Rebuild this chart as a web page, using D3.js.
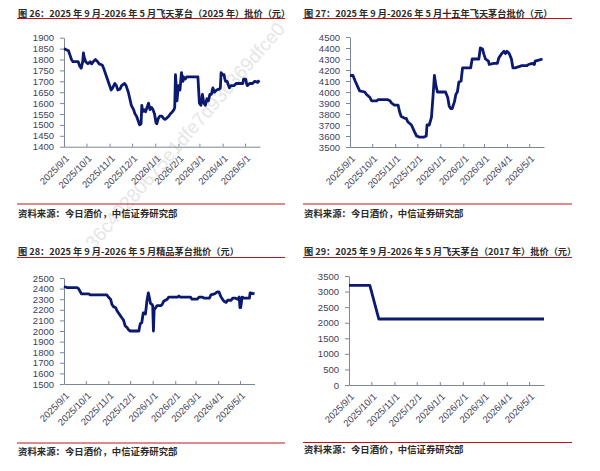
<!DOCTYPE html>
<html>
<head>
<meta charset="utf-8">
<script src="https://cdn.jsdelivr.net/npm/d3@7"></script>
<style>
  body { margin: 0; background: #fff; }
  svg { display: block; font-family: "Noto Sans CJK SC", "Noto Sans", sans-serif; }
</style>
</head>
<body>
<svg id="chart" width="600" height="471"></svg>
<script>
// ── Data ────────────────────────────────────────────────────────────────────
const MONTH_TICKS = ['2025-09-01', '2025-10-01', '2025-11-01', '2025-12-01', '2026-01-01',
                     '2026-02-01', '2026-03-01', '2026-04-01', '2026-05-01'];
const X_START = '2025-09-01';
const X_END   = '2026-05-21';

const SOURCE = '资料来源：今日酒价，中信证券研究部';

// 图26 飞天茅台（2025年）
const dates26 = ['2025-09-01','2025-09-04','2025-09-07','2025-09-09','2025-09-11','2025-09-13','2025-09-20','2025-09-22',
  '2025-09-24','2025-09-26','2025-09-27','2025-09-28','2025-09-30','2025-10-03','2025-10-06','2025-10-08','2025-10-10',
  '2025-10-13','2025-10-16','2025-10-18','2025-10-22','2025-10-24','2025-10-26','2025-10-28','2025-10-30','2025-11-01',
  '2025-11-03','2025-11-05','2025-11-08','2025-11-10','2025-11-12','2025-11-15','2025-11-17','2025-11-21','2025-11-23',
  '2025-11-26','2025-11-28','2025-11-30','2025-12-03','2025-12-05','2025-12-07','2025-12-09','2025-12-11','2025-12-13',
  '2025-12-14','2025-12-15','2025-12-17','2025-12-19','2025-12-21','2025-12-23','2025-12-25','2025-12-27','2025-12-29',
  '2025-12-31','2026-01-02','2026-01-03','2026-01-05','2026-01-07','2026-01-10','2026-01-12','2026-01-14','2026-01-16',
  '2026-01-19','2026-01-21','2026-01-24','2026-01-26','2026-01-27','2026-01-28','2026-01-29','2026-01-30','2026-02-01',
  '2026-02-03','2026-02-05','2026-02-07','2026-02-08','2026-02-10','2026-02-12','2026-02-27','2026-03-01','2026-03-03',
  '2026-03-05','2026-03-07','2026-03-09','2026-03-11','2026-03-13','2026-03-15','2026-03-17','2026-03-19','2026-03-21',
  '2026-03-24','2026-03-28','2026-03-29','2026-03-30','2026-04-01','2026-04-03','2026-04-04','2026-04-05','2026-04-07',
  '2026-04-09','2026-04-10','2026-04-12','2026-04-16','2026-04-19','2026-04-28','2026-04-29','2026-05-02','2026-05-03',
  '2026-05-04','2026-05-07','2026-05-11','2026-05-14','2026-05-18','2026-05-20'];
const price26 = [1850,1845,1840,1820,1800,1790,1790,1770,
  1760,1790,1830,1810,1790,1780,1790,1780,1790,
  1800,1790,1780,1775,1760,1740,1720,1700,1680,
  1660,1670,1690,1680,1660,1665,1680,1690,1680,
  1650,1620,1590,1570,1550,1540,1520,1500,1505,
  1590,1560,1570,1560,1580,1600,1570,1580,1570,
  1550,1510,1505,1530,1540,1540,1530,1525,1530,
  1540,1550,1560,1570,1580,1730,1680,1610,1680,
  1660,1740,1700,1720,1710,1720,1720,1600,1590,
  1640,1600,1590,1620,1610,1640,1640,1670,1650,
  1660,1665,1670,1740,1730,1730,1710,1700,1700,
  1680,1670,1680,1680,1690,1690,1710,1710,1690,
  1680,1690,1690,1700,1695,1705];
const yTicks26 = [1400,1450,1500,1550,1600,1650,1700,1750,1800,1850,1900];

// 图27 十五年飞天茅台
const dates27 = ['2025-09-01','2025-09-05','2025-09-08','2025-09-12','2025-09-14','2025-09-21','2025-09-23','2025-09-28',
  '2025-09-30','2025-10-07','2025-10-09','2025-10-22','2025-10-25','2025-10-27','2025-10-31','2025-11-05','2025-11-07',
  '2025-11-09','2025-11-14','2025-11-16','2025-11-18','2025-11-23','2025-11-25','2025-11-27','2025-11-30','2025-12-04',
  '2025-12-10','2025-12-13','2025-12-14','2025-12-17','2025-12-20','2025-12-22','2025-12-24','2025-12-26','2025-12-28',
  '2026-01-08','2026-01-11','2026-01-13','2026-01-15','2026-01-17','2026-01-20','2026-01-22','2026-01-24','2026-01-26',
  '2026-01-29','2026-01-31','2026-02-11','2026-02-13','2026-02-22','2026-02-24','2026-02-27','2026-03-01','2026-03-03',
  '2026-03-07','2026-03-08','2026-03-14','2026-03-19','2026-03-21','2026-03-25','2026-03-28','2026-03-30','2026-04-01',
  '2026-04-04','2026-04-07','2026-04-09','2026-04-12','2026-04-17','2026-04-21','2026-04-28','2026-04-30','2026-05-05',
  '2026-05-08','2026-05-09','2026-05-14','2026-05-19'];
const price27 = [4150,4150,4100,4040,4010,4000,3980,3950,
  3920,3920,3930,3930,3920,3900,3880,3880,3820,
  3780,3760,3760,3730,3700,3670,3640,3600,3590,
  3590,3600,3700,3700,3770,3950,4150,4060,4000,
  4000,3950,3870,3850,3850,3910,3980,4000,4090,
  4100,4220,4220,4300,4300,4400,4390,4340,4300,
  4280,4250,4260,4260,4310,4350,4370,4350,4370,
  4350,4300,4220,4220,4230,4240,4240,4250,4260,
  4250,4280,4290,4300];
const yTicks27 = [3500,3600,3700,3800,3900,4000,4100,4200,4300,4400,4500];

// 图28 精品茅台
const dates28 = ['2025-09-01','2025-09-05','2025-09-19','2025-09-21','2025-09-23','2025-09-25','2025-10-05','2025-10-07',
  '2025-10-30','2025-11-01','2025-11-04','2025-11-06','2025-11-08','2025-11-11','2025-11-13','2025-11-15','2025-11-17',
  '2025-11-20','2025-11-22','2025-11-24','2025-11-27','2025-11-29','2025-12-01','2025-12-13','2025-12-14','2025-12-15',
  '2025-12-17','2025-12-19','2025-12-21','2025-12-22','2025-12-24','2025-12-26','2025-12-27','2025-12-29','2025-12-31',
  '2026-01-01','2026-01-02','2026-01-03','2026-01-05','2026-01-07','2026-01-12','2026-01-14','2026-01-16','2026-01-21',
  '2026-01-23','2026-02-04','2026-02-06','2026-02-08','2026-02-22','2026-02-24','2026-03-03','2026-03-06','2026-03-10',
  '2026-03-13','2026-03-20','2026-03-22','2026-03-27','2026-03-31','2026-04-02','2026-04-05','2026-04-07','2026-04-09',
  '2026-04-12','2026-04-14','2026-04-19','2026-04-21','2026-04-25','2026-04-28','2026-04-30','2026-05-01','2026-05-02',
  '2026-05-04','2026-05-07','2026-05-14','2026-05-15','2026-05-21'];
const price28 = [2420,2410,2410,2400,2375,2350,2350,2340,
  2340,2320,2300,2250,2230,2220,2190,2170,2150,
  2120,2100,2050,2030,2010,2000,2000,2040,2070,
  2080,2170,2170,2160,2280,2360,2330,2260,2250,
  2240,2000,2200,2220,2240,2240,2250,2280,2300,
  2320,2320,2330,2320,2320,2300,2300,2320,2320,
  2310,2310,2340,2350,2370,2370,2320,2300,2280,
  2270,2290,2290,2310,2310,2300,2320,2220,2220,
  2320,2310,2310,2360,2350];
const yTicks28 = [1500,1600,1700,1800,1900,2000,2100,2200,2300,2400,2500];

// 图29 飞天茅台（2017年）
const dates29 = ['2025-09-01','2025-09-29','2025-10-11','2026-05-21'];
const price29 = [3200,3200,2120,2120];
const yTicks29 = [0,500,1000,1500,2000,2500,3000,3500];

const TITLES = [
  '图 26：2025 年 9 月-2026 年 5 月飞天茅台（2025 年）批价（元）',
  '图 27：2025 年 9 月-2026 年 5 月十五年飞天茅台批价（元）',
  '图 28：2025 年 9 月-2026 年 5 月精品茅台批价（元）',
  '图 29：2025 年 9 月-2026 年 5 月飞天茅台（2017 年）批价（元）',
];

// ── Layout ──────────────────────────────────────────────────────────────────
const LINE_COLOR = '#0b1a6e';
const AXIS_COLOR = '#7d8698';
const LABEL_COLOR = '#3e4156';
const RULE_COLOR = '#c0141c';

const panels = [
  { title: TITLES[0], dates: dates26, values: price26, yTicks: yTicks26,
    left: 64, right: 260, top: 37.7, bottom: 146.7,
    ruleX0: 17, ruleX1: 285, titleY: 16.5, ruleY: 18.5, footRuleY: 204, footY: 216.5 },
  { title: TITLES[1], dates: dates27, values: price27, yTicks: yTicks27,
    left: 350, right: 544, top: 37, bottom: 147,
    ruleX0: 303, ruleX1: 572, titleY: 16.5, ruleY: 18.5, footRuleY: 204, footY: 216.5 },
  { title: TITLES[2], dates: dates28, values: price28, yTicks: yTicks28,
    left: 64, right: 254.5, top: 278, bottom: 384,
    ruleX0: 17, ruleX1: 285, titleY: 255, ruleY: 257.5, footRuleY: 443, footY: 455 },
  { title: TITLES[3], dates: dates29, values: price29, yTicks: yTicks29,
    left: 349, right: 544, top: 276, bottom: 385,
    ruleX0: 303, ruleX1: 572, titleY: 255, ruleY: 257.5, footRuleY: 442.5, footY: 453 },
];

const parse = d3.timeParse('%Y-%m-%d');
const svg = d3.select('#chart');

// faint watermark
svg.append('text')
  .attr('transform', 'translate(190,140) rotate(-49)')
  .attr('text-anchor', 'middle')
  .attr('fill', '#e6e6e6')
  .style('font-family', 'Liberation Sans, sans-serif')
  .style('font-size', '19px')
  .text('36c40280675e1dfe7d93c369dfce0');

function drawPanel(p) {
  const g = svg.append('g');

  // title + red rules
  g.append('text')
    .attr('x', p.ruleX0 + 1).attr('y', p.titleY)
    .attr('fill', '#2a2a2a')
    .style('font-size', '9.2px').style('font-weight', '600')
    .text(p.title);
  g.append('line')
    .attr('x1', p.ruleX0).attr('x2', p.ruleX1)
    .attr('y1', p.ruleY).attr('y2', p.ruleY)
    .attr('stroke', RULE_COLOR).attr('stroke-width', 1);
  g.append('line')
    .attr('x1', p.ruleX0).attr('x2', p.ruleX1)
    .attr('y1', p.footRuleY).attr('y2', p.footRuleY)
    .attr('stroke', RULE_COLOR).attr('stroke-width', 1);
  g.append('text')
    .attr('x', p.ruleX0 + 1).attr('y', p.footY)
    .attr('fill', '#2a2a2a')
    .style('font-size', '9.4px').style('font-weight', '600')
    .text(SOURCE);

  const x = d3.scaleTime()
    .domain([parse(X_START), parse(X_END)])
    .range([p.left, p.right]);
  const y = d3.scaleLinear()
    .domain(d3.extent(p.yTicks))
    .range([p.bottom, p.top]);

  // y axis
  const ya = g.append('g')
    .attr('transform', `translate(${p.left},0)`)
    .call(d3.axisLeft(y).tickValues(p.yTicks).tickSize(4).tickSizeOuter(0)
      .tickPadding(6).tickFormat(d3.format('d')));
  ya.selectAll('path, line').attr('stroke', AXIS_COLOR);
  ya.selectAll('text')
    .attr('fill', LABEL_COLOR)
    .style('font-family', '"Liberation Sans", Arial, sans-serif')
    .style('font-size', '9.5px');

  // x axis
  const xa = g.append('g')
    .attr('transform', `translate(0,${p.bottom})`)
    .call(d3.axisBottom(x).tickValues(MONTH_TICKS.map(parse)).tickSize(-3).tickSizeOuter(0)
      .tickFormat(d3.timeFormat('%Y/%-m/%-d')));
  xa.selectAll('path, line').attr('stroke', AXIS_COLOR);
  xa.selectAll('text')
    .attr('x', 0).attr('y', 0).attr('dy', '0.35em')
    .attr('text-anchor', 'end')
    .attr('transform', 'translate(3,10) rotate(-45)')
    .attr('fill', LABEL_COLOR)
    .style('font-family', '"Liberation Sans", Arial, sans-serif')
    .style('font-size', '9.5px');

  // series
  const pts = p.dates.map((d, i) => [parse(d), p.values[i]]);
  g.append('path')
    .datum(pts)
    .attr('fill', 'none')
    .attr('stroke', LINE_COLOR)
    .attr('stroke-width', 2.8)
    .attr('stroke-linejoin', 'round')
    .attr('d', d3.line().x(d => x(d[0])).y(d => y(d[1])));
}

panels.forEach(drawPanel);
</script>
</body>
</html>
